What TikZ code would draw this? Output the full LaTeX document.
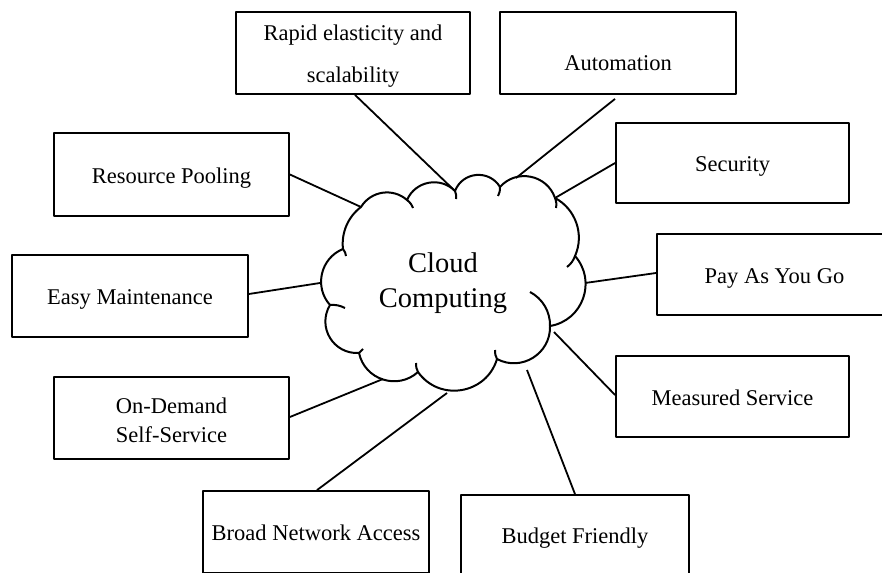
\documentclass[tikz,border=0pt]{standalone}
\usepackage{fontspec}
\setmainfont{Liberation Serif}
\usetikzlibrary{topaths}
\begin{document}
\begin{tikzpicture}[x=1pt,y=-1pt,line join=round,
  boxbase/.style={draw,line width=1.8pt,rectangle,inner sep=0pt,
    font=\fontsize{22.5}{27}\selectfont},
  box/.style={boxbase,text height=17pt,text depth=0pt},
  conn/.style={line width=1.8pt},
  cloudline/.style={line width=2pt},
  hook/.style={cloudline,bend left=15}]
\useasboundingbox (0,0) rectangle (882,572);
\clip (0,0) rectangle (882,572);

% boxes
\node[boxbase,minimum width=234pt,minimum height=82pt,align=center,
  font=\fontsize{22.5}{42}\selectfont] (rapid) at (353,53)
  {\rule{0pt}{20.9pt}Rapid elasticity and\\scalability};
\node[box,minimum width=236pt,minimum height=82pt,text height=36pt] (auto) at (618,53) {Automation};
\node[box,minimum width=233pt,minimum height=80pt] (sec) at (732.5,163) {Security};
\node[box,minimum width=235pt,minimum height=83pt] (res) at (171.5,174.5) {Resource Pooling};
\node[box,minimum width=235pt,minimum height=81pt] (pay) at (774.5,274.5) {Pay As You Go};
\node[box,minimum width=236pt,minimum height=82pt] (easy) at (130,296) {Easy Maintenance};
\node[box,minimum width=233pt,minimum height=81pt] (meas) at (732.5,396.5) {Measured Service};
\node[boxbase,minimum width=235pt,minimum height=82pt,align=center,
  font=\fontsize{22.5}{29}\selectfont] (ond) at (171.5,418)
  {\rule{0pt}{19.3pt}On-Demand\\Self-Service};
\node[box,minimum width=226pt,minimum height=82pt] (broad) at (316,532) {Broad Network Access};
\node[box,minimum width=228pt,minimum height=82pt,text height=14pt] (budget) at (575,536) {Budget Friendly};

% cloud
\coordinate (J1) at (361,207);
\coordinate (J2) at (407,200);
\coordinate (J3) at (455,191);
\coordinate (J4) at (500,187);
\coordinate (J5) at (555,198);
\coordinate (J6) at (575,256);
\coordinate (J7) at (550,326);
\coordinate (J8) at (497,359);
\coordinate (J9) at (418,372);
\coordinate (J10) at (359,353);
\coordinate (J11) at (330,305);
\coordinate (J12) at (343,249);
\draw[cloudline] (J12) to[bend left=30,looseness=0.91] (J1)
  to[bend left=50,looseness=1.04] (J2)
  to[bend left=56,looseness=1.09] (J3)
  to[bend left=64,looseness=1.18] (J4)
  to[bend left=60,looseness=1.13] (J5)
  to[bend left=43,looseness=0.98] (J6)
  to[bend left=61,looseness=1.15] (J7)
  to[bend left=60,looseness=1.135] (J8)
  to[bend left=64,looseness=1.18] (J9)
  to[bend left=60,looseness=1.135] (J10)
  to[bend left=62,looseness=1.17] (J11)
  to[bend left=55,looseness=1.08] (J12) -- cycle;
\draw[hook] (J2) to (413,208);
\draw[hook] (J3) to (456,199);
\draw[hook] (J4) to (498,196);
\draw[hook] (J5) to (556,208);
\draw[hook] (J6) to (567,267);
\draw[cloudline] (J7) to[bend right=32,looseness=0.92] (530,292);
\draw[hook] (J8) to (495,350);
\draw[hook] (J9) to (416,363);
\draw[hook] (J10) to (363,349);
\draw[hook] (J11) to (345,308);
\draw[hook] (J12) to (346,256);

\node[font=\fontsize{28.5}{35}\selectfont,align=center,inner sep=0pt] (ctext) at (443,283) {Cloud\\Computing};

% connector ends on the cloud
\coordinate (autoend) at (516,178);
\coordinate (payend) at (585,283);
\coordinate (easyend) at (320,283);
\coordinate (measend) at (554,332);
\coordinate (ondend) at (383,379);
\coordinate (broadend) at (447,393);
\coordinate (budgetend) at (527,370);

\draw[conn] ([xshift=2pt]rapid.south) -- (J3);
\draw[conn] ([shift={(-3,4)}]auto.south) -- (autoend);
\draw[conn] (sec.west) -- (J5);
\draw[conn] (res.east) -- (J1);
\draw[conn] ([shift={(0,-1.5)}]pay.west) -- (payend);
\draw[conn] ([shift={(0,-2)}]easy.east) -- (easyend);
\draw[conn] ([shift={(0,-1.5)}]meas.west) -- (measend);
\draw[conn] ([shift={(0,-1)}]ond.east) -- (ondend);
\draw[conn] ([xshift=1pt]broad.north) -- (broadend);
\draw[conn] (budget.north) -- (budgetend);
\end{tikzpicture}
\end{document}
